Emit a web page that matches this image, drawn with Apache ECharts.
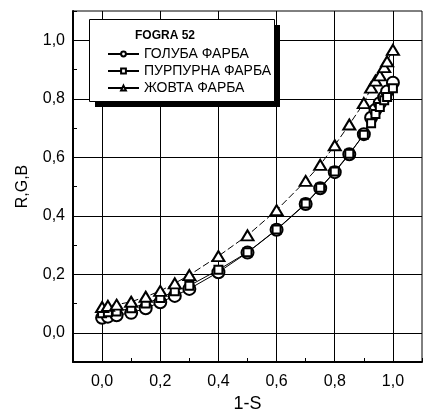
<!DOCTYPE html>
<html>
<head>
<meta charset="utf-8">
<script src="https://cdn.jsdelivr.net/npm/echarts@6/dist/echarts.min.js"></script>
<style>
  html, body { margin: 0; padding: 0; background: #fff; }
  #chart { width: 425px; height: 418px; }
</style>
</head>
<body>
<div id="chart"></div>
<script>
// 1-S values (x)
const oneMinusS = [0, 0.02, 0.05, 0.1, 0.15, 0.2, 0.25, 0.3, 0.4, 0.5, 0.6, 0.7, 0.75, 0.8, 0.85, 0.9, 0.925, 0.94, 0.955, 0.97, 0.98, 1.0];
const cyanInk = [0.051, 0.055, 0.06, 0.068, 0.084, 0.104, 0.126, 0.15, 0.207, 0.274, 0.352, 0.44, 0.494, 0.549, 0.61, 0.679, 0.735, 0.762, 0.785, 0.805, 0.825, 0.855];
const magentaInk = [0.067, 0.07, 0.073, 0.084, 0.1, 0.119, 0.142, 0.161, 0.215, 0.275, 0.353, 0.442, 0.496, 0.551, 0.612, 0.677, 0.716, 0.748, 0.772, 0.795, 0.806, 0.836];
const yellowInk = [0.088, 0.092, 0.096, 0.106, 0.123, 0.143, 0.169, 0.197, 0.262, 0.333, 0.419, 0.519, 0.574, 0.641, 0.712, 0.785, 0.838, 0.862, 0.88, 0.908, 0.928, 0.967];
const seriesNames = ['ГОЛУБА ФАРБА', 'ПУРПУРНА ФАРБА', 'ЖОВТА ФАРБА'];
const gridTicks = [0, 0.2, 0.4, 0.6, 0.8, 1.0];

const chart = echarts.init(document.getElementById('chart'));

function pairs(ys) {
  return oneMinusS.map((x, i) => [x, ys[i]]);
}
function tickLabel(v) {
  const k = Math.round(v * 10);
  if (k % 2 !== 0 || k < 0 || k > 10) return '';
  return (k / 10).toFixed(1).replace('.', ',');
}

const gridLines = gridTicks.map(v => ({ xAxis: v })).concat(gridTicks.map(v => ({ yAxis: v })));

const option = {
  animation: false,
  textStyle: { fontFamily: 'Liberation Sans, Arial, sans-serif' },
  grid: { left: 73, top: 11, right: -12, bottom: 45, show: true, borderColor: '#000', borderWidth: 1 },
  xAxis: {
    type: 'value',
    min: -0.1,
    max: 1.1,
    interval: 0.1,
    name: '1-S',
    nameLocation: 'middle',
    nameGap: 33,
    nameTextStyle: { fontSize: 18, color: '#000' },
    axisLine: { onZero: false, lineStyle: { color: '#000', width: 2 } },
    axisTick: { inside: true, length: 4, lineStyle: { color: '#000' } },
    axisLabel: { fontSize: 16, color: '#000', margin: 12, formatter: tickLabel },
    splitLine: { show: false }
  },
  yAxis: {
    type: 'value',
    min: -0.1,
    max: 1.1,
    interval: 0.1,
    name: 'R,G,B',
    nameLocation: 'middle',
    nameGap: 42,
    nameTextStyle: { fontSize: 16, color: '#000' },
    axisLine: { onZero: false, lineStyle: { color: '#000', width: 2 } },
    axisTick: { inside: true, length: 4, lineStyle: { color: '#000' } },
    axisLabel: { fontSize: 16, color: '#000', margin: 8, formatter: tickLabel },
    splitLine: { show: false }
  },
  legend: {
    data: seriesNames,
    orient: 'vertical',
    left: 102,
    top: 42,
    itemWidth: 31,
    itemHeight: 6,
    itemGap: 3,
    z: 200,
    lineStyle: { type: 'solid' },
    textStyle: { fontSize: 14, lineHeight: 14, color: '#000' }
  },
  graphic: [
    { type: 'rect', z: 100, shape: { x: 95, y: 25, width: 185, height: 82 }, style: { fill: '#000' } },
    { type: 'rect', z: 101, shape: { x: 89.5, y: 19.5, width: 185, height: 82 }, style: { fill: '#fff', stroke: '#000', lineWidth: 1 } },
    { type: 'text', z: 102, x: 165, y: 36, style: { text: 'FOGRA 52', font: 'bold 12px Liberation Sans, Arial, sans-serif', fill: '#000', align: 'center', verticalAlign: 'middle' } }
  ],
  series: [
    {
      name: seriesNames[0],
      type: 'line',
      data: pairs(cyanInk),
      symbol: 'emptyCircle',
      symbolSize: 12,
      color: '#000',
      lineStyle: { color: '#000', width: 1 },
      itemStyle: { color: '#000', borderWidth: 1 },
      markLine: {
        silent: true,
        z: 1,
        symbol: 'none',
        animation: false,
        label: { show: false },
        emphasis: { disabled: true },
        lineStyle: { color: '#000', type: 'solid', width: 1 },
        data: gridLines
      }
    },
    {
      name: seriesNames[1],
      type: 'line',
      data: pairs(magentaInk),
      symbol: 'emptyRect',
      symbolSize: 8,
      color: '#000',
      lineStyle: { color: '#000', width: 1 },
      itemStyle: { color: '#000', borderWidth: 1 }
    },
    {
      name: seriesNames[2],
      type: 'line',
      data: pairs(yellowInk),
      symbol: 'emptyTriangle',
      symbolSize: [12, 10],
      color: '#000',
      lineStyle: { color: '#000', width: 1, type: [7, 3] },
      itemStyle: { color: '#000', borderWidth: 1 }
    }
  ]
};

chart.setOption(option);

window.addEventListener('resize', () => {
  chart.resize();
});
</script>
</body>
</html>
